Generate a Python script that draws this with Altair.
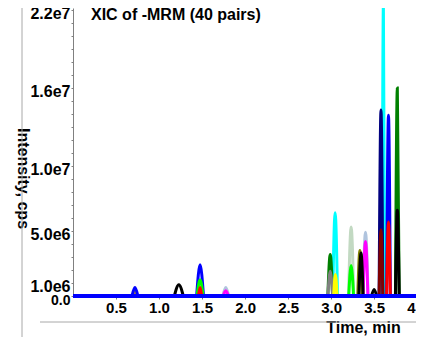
import altair as alt
import pandas as pd

# ---- data (time in min, intensity in cps) ----
PEAK_TIME = [3.608, 3.77, 3.58, 3.667, 3.77, 3.667, 3.58, 3.50,
             3.047, 3.233, 3.40, 3.40, 3.335, 3.348, 2.99, 2.99,
             3.05, 3.233, 1.477, 1.477, 1.477, 1.23, 0.72, 0.72,
             1.776, 1.776]
PEAK_HEIGHT = [22.4e6, 16.0e6, 14.3e6, 13.9e6, 6.6e6, 5.7e6, 5.1e6, 0.5e6,
               6.4e6, 5.3e6, 4.9e6, 4.2e6, 3.5e6, 3.3e6, 3.2e6, 1.9e6,
               1.65e6, 2.35e6, 2.4e6, 1.25e6, 0.65e6, 0.87e6, 0.3e6, 0.65e6,
               0.65e6, 0.4e6]
PEAK_COLOR = ["#00FFFF", "#008000", "#000080", "#0000FF", "#000000", "#FF0000", "#800000", "#000000",
              "#00FFFF", "#C2D9C2", "#B0C4DE", "#FF00FF", "#808000", "#000000", "#008000", "#808080",
              "#FFFF00", "#00FF00", "#0000FF", "#00FF00", "#FF0000", "#000000", "#A08040", "#0000FF",
              "#B0C4DE", "#FF00FF"]
PEAK_HALFWIDTH = [0.015, 0.022, 0.022, 0.022, 0.022, 0.022, 0.022, 0.03,
                  0.028, 0.03, 0.03, 0.028, 0.025, 0.025, 0.028, 0.028,
                  0.02, 0.028, 0.04, 0.035, 0.02, 0.052, 0.03, 0.035,
                  0.035, 0.03]

BASELINE_TIME = [0.0, 4.08]
BASELINE_INTENSITY = [0.0, 0.0]

Y_TICKS = [0, 1e6, 2e6, 3e6, 4e6, 5e6, 6e6, 7e6, 8e6, 9e6, 10e6, 11e6, 12e6,
           13e6, 14e6, 15e6, 16e6, 17e6, 18e6, 19e6, 20e6, 21e6, 22e6]
Y_LABEL_VALUES = [0, 1e6, 5e6, 1e7, 1.6e7, 2.2e7]
Y_LABEL_TEXT = ["0.0", "1.0e6", "5.0e6", "1.0e7", "1.6e7", "2.2e7"]
X_TICKS = [0.5, 1.0, 1.5, 2.0, 2.5, 3.0, 3.5, 4.0]
TITLE = "XIC of -MRM (40 pairs)"

FONT = "Liberation Sans"

# ---- build trace table ----
rows = []
for i, (t, h, c, w) in enumerate(zip(PEAK_TIME, PEAK_HEIGHT, PEAK_COLOR, PEAK_HALFWIDTH)):
    pid = f"p{i:02d}"
    rows.append({"peak": pid, "pt": 0, "time": t - w, "intensity": 0.0, "color": c})
    rows.append({"peak": pid, "pt": 1, "time": t, "intensity": h, "color": c})
    rows.append({"peak": pid, "pt": 2, "time": t + w, "intensity": 0.0, "color": c})
peaks_df = pd.DataFrame(rows)
base_df = pd.DataFrame({"time": BASELINE_TIME, "intensity": BASELINE_INTENSITY})

label_expr = "''"
for v, s in reversed(list(zip(Y_LABEL_VALUES, Y_LABEL_TEXT))):
    label_expr = f"datum.value == {int(v)} ? '{s}' : ({label_expr})"

x_scale = alt.Scale(domain=[0, 4.08], nice=False, zero=False)
y_scale = alt.Scale(domain=[0, 2.215e7], nice=False)

x_axis = alt.Axis(values=X_TICKS, format=".1f", grid=False, domain=False,
                  tickSize=3, tickColor="#808080", labelPadding=1,
                  labelFont=FONT, labelFontSize=15, labelFontWeight="bold", labelColor="black",
                  labelFlush=False, labelOverlap=False,
                  title="Time, min", titleFont=FONT, titleFontSize=16, titleFontWeight="bold",
                  titleColor="black", titleX=290, titleY=36, titleAlign="center",
                  titleBaseline="alphabetic")
y_axis = alt.Axis(values=Y_TICKS, labelExpr=label_expr, grid=False,
                  domainColor="#808080", tickColor="#808080", tickSize=2, labelPadding=1,
                  labelOffset=4,
                  labelFont=FONT,
                  labelFontSize={"condition": {"test": "datum.value == 0", "value": 14}, "value": 16},
                  labelFontWeight="bold", labelColor="black",
                  labelOverlap=False, labelFlush=False,
                  title="Intensity, cps", titleFont=FONT, titleFontSize=16, titleFontWeight="bold",
                  titleColor="black", titleAngle=90, titleX=-51, titleY=170,
                  titleAlign="center", titleBaseline="middle")

frame_v = alt.Chart(alt.Data(values=[{}])).mark_rule(color="#a8a8a8", strokeWidth=1).encode(
    x=alt.value(-51), y=alt.value(-8), y2=alt.value(329))
frame_h = alt.Chart(alt.Data(values=[{}])).mark_rule(color="#a8a8a8", strokeWidth=1).encode(
    x=alt.value(-33), x2=alt.value(351), y=alt.value(314))

title_text = alt.Chart(alt.Data(values=[{"t": TITLE}])).mark_text(
    align="left", baseline="alphabetic", font=FONT, fontSize=16, fontWeight="bold", color="black"
).encode(text="t:N", x=alt.value(18), y=alt.value(12))

peaks = alt.Chart(peaks_df).mark_line(interpolate="monotone", strokeWidth=3, clip=False,
                                      strokeCap="round").encode(
    x=alt.X("time:Q", scale=x_scale, axis=x_axis),
    y=alt.Y("intensity:Q", scale=y_scale, axis=y_axis),
    color=alt.Color("color:N", scale=None),
    detail="peak:N",
    order="pt:Q",
)

baseline = alt.Chart(base_df).mark_line(color="#0000FF", strokeWidth=4, clip=False).encode(
    x=alt.X("time:Q", scale=x_scale, axis=x_axis),
    y=alt.Y("intensity:Q", scale=y_scale, axis=y_axis),
)

chart = alt.layer(frame_v, frame_h, peaks, baseline, title_text).properties(
    width=351, height=288,
    background="white",
    autosize=alt.AutoSizeParams(type="none"),
    padding={"left": 65, "top": 0, "right": -8, "bottom": 41},
).configure_view(strokeWidth=0)

chart.save("out.html", embed_options={"renderer": "svg", "actions": False})
